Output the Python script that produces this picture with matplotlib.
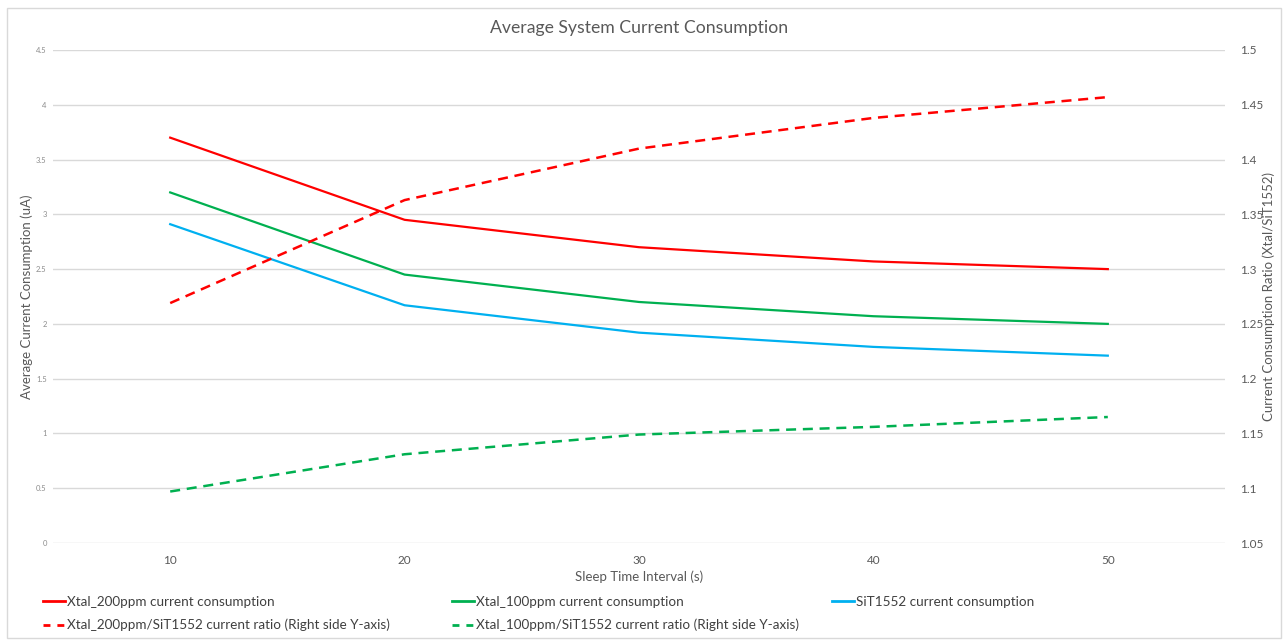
import matplotlib.pyplot as plt
from matplotlib.lines import Line2D
from matplotlib.patches import Rectangle

# sleep interval (s)
sleep_s = [10, 20, 30, 40, 50]

# average current (uA), left axis
xtal200_ua = [3.70, 2.95, 2.70, 2.57, 2.50]
xtal100_ua = [3.20, 2.45, 2.20, 2.07, 2.00]
sit1552_ua = [2.91, 2.17, 1.92, 1.79, 1.71]

# current ratio vs SiT1552, right axis
ratio200 = [1.269, 1.363, 1.410, 1.438, 1.457]
ratio100 = [1.097, 1.131, 1.149, 1.156, 1.165]

left_ticks = [0, 0.5, 1, 1.5, 2, 2.5, 3, 3.5, 4, 4.5]
left_ticklabels = ['0', '0.5', '1', '1.5', '2', '2.5', '3', '3.5', '4', '4.5']
right_ticks = [1.05, 1.1, 1.15, 1.2, 1.25, 1.3, 1.35, 1.4, 1.45, 1.5]
right_ticklabels = ['1.05', '1.1', '1.15', '1.2', '1.25', '1.3', '1.35', '1.4', '1.45', '1.5']

RED = '#FF0000'
GREEN = '#00B050'
BLUE = '#00B0F0'
GRID = '#D9D9D9'
TXT = '#595959'

plt.rcParams['font.family'] = ['Lato', 'DejaVu Sans']

fig = plt.figure(figsize=(12.84, 6.42), dpi=100)
W, H = 1284, 642

# chart border
fig.patches.append(Rectangle((7 / W, 4 / H), 1274 / W, 630 / H, transform=fig.transFigure,
                             fill=False, edgecolor=GRID, linewidth=1))

ax = fig.add_axes([53 / W, 1 - 543 / H, (1225 - 53) / W, (543 - 50) / H])
ax2 = ax.twinx()

dash = (0, (4, 2.7))
ax.plot(sleep_s, xtal200_ua, color=RED, lw=1.6)
ax.plot(sleep_s, xtal100_ua, color=GREEN, lw=1.6)
ax.plot(sleep_s, sit1552_ua, color=BLUE, lw=1.6)
ax2.plot(sleep_s, ratio200, color=RED, lw=1.8, linestyle=dash)
ax2.plot(sleep_s, ratio100, color=GREEN, lw=1.8, linestyle=dash)

ax.set_xlim(5, 55)
ax.set_ylim(0, 4.5)
ax2.set_ylim(1.05, 1.5)
ax.set_xticks(sleep_s)
ax.set_xticklabels([str(v) for v in sleep_s], fontsize=8.5, color=TXT)
ax.set_yticks(left_ticks)
ax.set_yticklabels(left_ticklabels, fontsize=5.5, color='#8C8C8C')
ax2.set_yticks(right_ticks)
ax2.set_yticklabels(right_ticklabels, fontsize=8.5, color=TXT)
ax.tick_params(axis='both', length=0)
ax.tick_params(axis='x', pad=9)
ax.tick_params(axis='y', pad=4.5)
ax2.tick_params(axis='y', length=0, pad=11)
ax.grid(axis='y', color=GRID, linewidth=1)
ax.set_axisbelow(True)
for a in (ax, ax2):
    for s in a.spines.values():
        s.set_visible(False)

ax.set_title('Average System Current Consumption', fontsize=12.7, color=TXT, pad=12)
ax.set_xlabel('Sleep Time Interval (s)', fontsize=9.5, color=TXT, labelpad=3)
ax.set_ylabel('Average Current Consumption (uA)', fontsize=9.5, color=TXT)
ax2.set_ylabel('Current Consumption Ratio (Xtal/SiT1552)', fontsize=9.5, color=TXT)
ax.yaxis.set_label_coords(-0.0168, 0.5)
ax2.yaxis.set_label_coords(1.0322, 0.5)

# legend, three columns placed across the bottom
solid = dict(lw=2)
dashed = dict(lw=2, linestyle=(0, (2.5, 2.5)))
columns = [
    (43, [Line2D([], [], color=RED, **solid), Line2D([], [], color=RED, **dashed)],
     ['Xtal_200ppm current consumption', 'Xtal_200ppm/SiT1552 current ratio (Right side Y-axis)']),
    (452, [Line2D([], [], color=GREEN, **solid), Line2D([], [], color=GREEN, **dashed)],
     ['Xtal_100ppm current consumption', 'Xtal_100ppm/SiT1552 current ratio (Right side Y-axis)']),
    (832, [Line2D([], [], color=BLUE, **solid)],
     ['SiT1552 current consumption']),
]
for x0, handles, labels in columns:
    fig.legend(handles, labels, loc='upper left', bbox_to_anchor=(x0 / W, 1 - 596 / H),
               frameon=False, fontsize=9.7, labelcolor='#404040', handlelength=1.65,
               handletextpad=0.15, borderaxespad=0, borderpad=0, labelspacing=0.8)

fig.savefig('out.png', dpi=100)
